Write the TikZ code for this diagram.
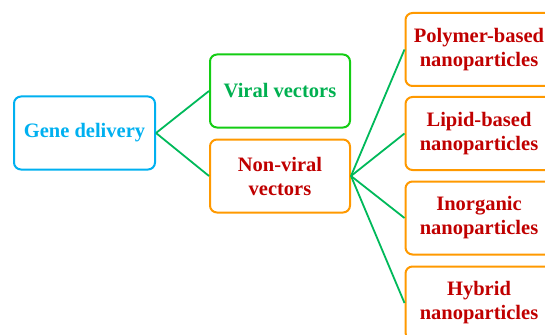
\documentclass[tikz,border=0pt]{standalone}
\usepackage{fontspec}
\setmainfont{Liberation Serif}
\definecolor{cblue}{RGB}{0,176,240}
\definecolor{cgreenb}{RGB}{20,205,20}
\definecolor{cgreent}{RGB}{0,176,80}
\definecolor{corange}{RGB}{255,153,0}
\definecolor{cred}{RGB}{192,0,0}
\definecolor{cline}{RGB}{0,185,90}
\tikzset{
  box/.style={draw, line width=2pt, rounded corners=7pt, minimum height=73pt,
    align=center, font=\fontsize{20.5}{24}\selectfont\bfseries, inner sep=0pt},
  bluebox/.style={box, draw=cblue, text=cblue, minimum width=141pt},
  greenbox/.style={box, draw=cgreenb, text=cgreent, minimum width=140pt},
  midbox/.style={box, draw=corange, text=cred, minimum width=140pt},
  rightbox/.style={box, draw=corange, text=cred, minimum width=147pt},
  link/.style={draw=cline, line width=1.8pt}
}
\begin{document}
\begin{tikzpicture}[x=1pt,y=-1pt]
\useasboundingbox (0,0) rectangle (545,334);
\clip (0,0) rectangle (545,334);
\node[bluebox] (gene) at (84.5,133) {Gene delivery};
\node[greenbox] (viral) at (280,91) {Viral vectors};
\node[midbox] (nonviral) at (280,176) {Non-viral\\vectors};
\node[rightbox] (poly) at (479,49.5) {Polymer-based\\nanoparticles};
\node[rightbox] (lipid) at (479,133.5) {Lipid-based\\nanoparticles};
\node[rightbox] (inorg) at (479,218) {Inorganic\\nanoparticles};
\node[rightbox] (hybrid) at (479,303) {Hybrid\\nanoparticles};
\draw[link] (gene.east) -- (viral.west);
\draw[link] (gene.east) -- (nonviral.west);
\draw[link] (nonviral.east) -- (poly.west);
\draw[link] (nonviral.east) -- (lipid.west);
\draw[link] (nonviral.east) -- (inorg.west);
\draw[link] (nonviral.east) -- (hybrid.west);
\end{tikzpicture}
\end{document}
